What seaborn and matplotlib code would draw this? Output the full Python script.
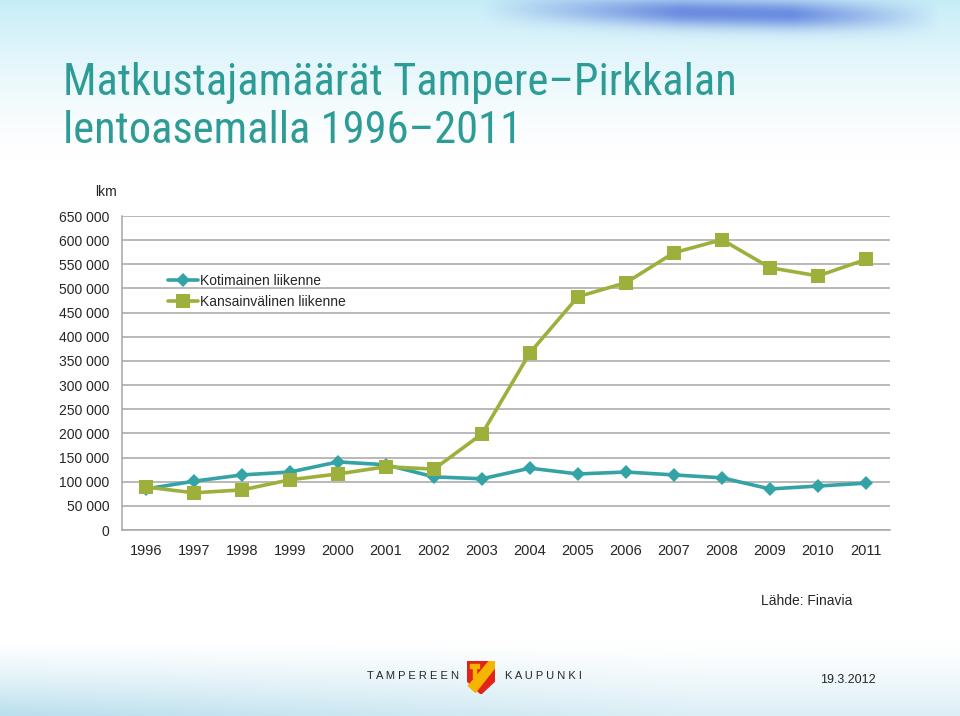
import numpy as np
import pandas as pd
import matplotlib.pyplot as plt
import matplotlib.patches as mpatches
from matplotlib.ticker import FuncFormatter, MultipleLocator
import seaborn as sns

vuodet = list(range(1996, 2012))
kotimainen = [85000, 101000, 114000, 120000, 141000, 135000, 110000, 106000,
              128000, 116000, 120000, 114000, 108000, 85000, 91000, 97000]
kansainvalinen = [89000, 77000, 83000, 104000, 116000, 131000, 126000, 199000,
                  367000, 483000, 512000, 574000, 601000, 543000, 526000, 560000]
sarjat = ['Kotimainen liikenne', 'Kansainvälinen liikenne']

df = pd.DataFrame({'vuosi': vuodet * 2,
                   'lkm': kotimainen + kansainvalinen,
                   'sarja': [sarjat[0]] * 16 + [sarjat[1]] * 16})

teal = '#34A3A6'
olive = '#9DB03C'
gridc = '#A6A6A6'

sns.set_style('white')
plt.rcParams['font.family'] = ['Liberation Sans', 'DejaVu Sans']

fig = plt.figure(figsize=(9.6, 7.16), dpi=100)

# background decoration
bg = fig.add_axes([0, 0, 1, 1], zorder=-10)
H, W = 716, 960
yy, xx = np.mgrid[0:H, 0:W]
img = np.ones((H, W, 3))
top = np.clip(1 - yy / 160.0, 0, 1) ** 1.5
light = np.array([0.78, 0.93, 0.97])
for c in range(3):
    img[:, :, c] = 1 - top * (1 - light[c])
streak = np.exp(-((yy - 8 - 0.02 * (xx - 500)) / 14.0) ** 2) * np.clip((xx - 480) / 200.0, 0, 1) * np.clip((940 - xx) / 150.0, 0, 1)
dark = np.array([0.42, 0.55, 0.88])
for c in range(3):
    img[:, :, c] = img[:, :, c] * (1 - streak) + dark[c] * streak
bot = np.clip((yy - 640) / 76.0, 0, 1) ** 1.3 * (0.5 + 0.5 * np.clip(1 - xx / 700.0, 0, 1))
blight = np.array([0.72, 0.87, 0.93])
for c in range(3):
    img[:, :, c] = img[:, :, c] * (1 - bot) + blight[c] * bot
bg.imshow(img, aspect='auto', extent=[0, 1, 0, 1], origin='upper')
bg.axis('off')

ax = fig.add_axes([122 / 960, (716 - 530) / 716, 768 / 960, 314 / 716])
ax.patch.set_alpha(0)
sns.lineplot(data=df, x='vuosi', y='lkm', hue='sarja', style='sarja',
             palette={sarjat[0]: teal, sarjat[1]: olive},
             markers={sarjat[0]: 'D', sarjat[1]: 's'}, dashes=False,
             linewidth=2.6, markersize=8, markeredgewidth=0, ax=ax)
for ln in ax.lines:
    if ln.get_marker() == 's':
        ln.set_markersize(9.5)
    else:
        ln.set_markersize(7)

ax.set_xlim(1995.5, 2011.5)
ax.set_ylim(0, 650000)
ax.yaxis.set_major_locator(MultipleLocator(50000))
ax.yaxis.set_major_formatter(FuncFormatter(lambda v, p: f'{int(v):,}'.replace(',', ' ')))
ax.set_xticks(vuodet)
ax.set_xticks(np.arange(1995.5, 2012, 1), minor=True)
ax.tick_params(axis='x', which='major', length=0, labelsize=10.5, pad=10)
ax.tick_params(axis='x', which='minor', length=5, color=gridc, direction='out')
ax.tick_params(axis='y', length=5, color=gridc, labelsize=10, pad=4, direction='out')
ax.yaxis.grid(True, color=gridc, linewidth=1.1)
ax.set_axisbelow(True)
for s in ['top', 'right']:
    ax.spines[s].set_visible(False)
for s in ['left', 'bottom']:
    ax.spines[s].set_color(gridc)
    ax.spines[s].set_linewidth(1.1)
ax.set_xlabel('')
ax.set_ylabel('')

h, l = ax.get_legend_handles_labels()
for hh in h:
    hh.set_linewidth(2.6)
leg = ax.legend(h, l, loc='upper left', bbox_to_anchor=(162 / 960, 1 - 268 / 716),
                bbox_transform=fig.transFigure, frameon=False, fontsize=10,
                handlelength=2.2, handletextpad=0.1, labelspacing=0.55,
                borderaxespad=0)

fig.text(117 / 960, 1 - 192 / 716, 'lkm', ha='right', va='center', fontsize=10)

tfont = ['Roboto Condensed', 'Archivo Narrow', 'Liberation Sans', 'DejaVu Sans']
fig.text(63 / 960, 1 - 95 / 716, 'Matkustajamäärät Tampere–Pirkkalan',
         color='#2E9C96', fontsize=32, family=tfont, va='baseline')
fig.text(63 / 960, 1 - 143 / 716, 'lentoasemalla 1996–2011',
         color='#2E9C96', fontsize=32, family=tfont, va='baseline')

fig.text(852 / 960, 1 - 601 / 716, 'Lähde: Finavia', ha='right', va='center', fontsize=10)
fig.text(876 / 960, 1 - 680 / 716, '19.3.2012', ha='right', va='center', fontsize=9)
fig.text(367 / 960, 1 - 676 / 716, 'T A M P E R E E N', ha='left', va='center', fontsize=8)
fig.text(505 / 960, 1 - 676 / 716, 'K A U P U N K I', ha='left', va='center', fontsize=8)

# simple coat of arms
sh = fig.add_axes([467 / 960, 1 - 694 / 716, 28 / 960, 33 / 716])
sh.axis('off')
sh.set_xlim(0, 1)
sh.set_ylim(0, 1)
shield = mpatches.Polygon([[0, 1], [1, 1], [1, 0.4], [0.5, 0], [0, 0.4]], closed=True, color='#E2231A')
sh.add_patch(shield)
band = mpatches.Polygon([[0.05, 0.25], [0.8, 1], [1, 1], [1, 0.8], [0.3, 0.05]], closed=True, color='#F4B400')
sh.add_patch(band)
sh.add_patch(mpatches.Rectangle((0.12, 0.78), 0.3, 0.12, color='#F4B400'))
sh.add_patch(mpatches.Rectangle((0.22, 0.5), 0.1, 0.3, color='#F4B400'))

fig.savefig('out.png', dpi=100)
